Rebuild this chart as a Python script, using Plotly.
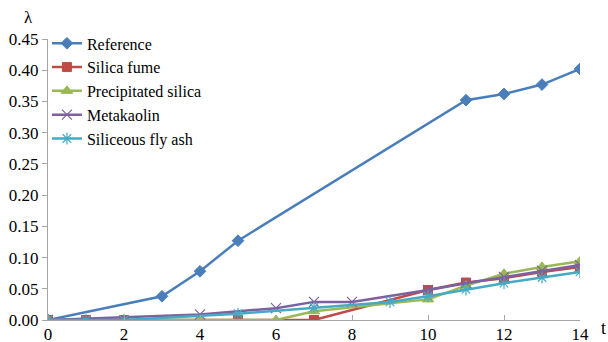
import plotly.graph_objects as go

# Data
ref_t = [0, 3, 4, 5, 11, 12, 13, 14]
ref_v = [0.0, 0.038, 0.078, 0.127, 0.352, 0.362, 0.377, 0.402]

sf_t = [0, 1, 2, 5, 7, 10, 11, 12, 13, 14]
sf_v = [0.0, 0.0, 0.0, 0.0, 0.0, 0.048, 0.060, 0.067, 0.077, 0.085]

ps_t = [0, 3, 4, 6, 7, 10, 11, 12, 13, 14]
ps_v = [0.0, 0.0, 0.0, 0.0, 0.014, 0.033, 0.055, 0.074, 0.085, 0.094]

mk_t = [0, 4, 6, 7, 8, 10, 11, 12, 13, 14]
mk_v = [0.0, 0.009, 0.019, 0.029, 0.029, 0.048, 0.059, 0.069, 0.079, 0.088]

fa_t = [0, 1, 2, 5, 7, 9, 10, 11, 12, 13, 14]
fa_v = [0.0, 0.0, 0.0, 0.010, 0.020, 0.029, 0.038, 0.049, 0.059, 0.068, 0.077]

x_ticks = [0, 2, 4, 6, 8, 10, 12, 14]
y_ticks = [0.0, 0.05, 0.10, 0.15, 0.20, 0.25, 0.30, 0.35, 0.40, 0.45]

series = [
    ("Reference", ref_t, ref_v, "#4A7EBB", "diamond", 9, 1),
    ("Silica fume", sf_t, sf_v, "#BE4B48", "square", 9, 1),
    ("Precipitated silica", ps_t, ps_v, "#98B954", "triangle-up", 10, 1),
    ("Metakaolin", mk_t, mk_v, "#7D60A0", "x-thin-open", 10, 1.2),
    ("Siliceous fly ash", fa_t, fa_v, "#46AAC5", "asterisk-open", 10, 1.2),
]

FONT = "Liberation Serif"

fig = go.Figure()
for name, t, v, color, sym, size, lw in series:
    fig.add_trace(go.Scatter(
        x=t, y=v, name=name, mode="lines+markers",
        line=dict(color=color, width=2.5),
        marker=dict(symbol=sym, size=size, color=color,
                    line=dict(color=color, width=lw)),
    ))

fig.update_layout(
    width=608, height=342,
    margin=dict(l=48, r=28, t=39, b=22),
    paper_bgcolor="white", plot_bgcolor="white",
    font=dict(family=FONT, size=17, color="#000000"),
    showlegend=True,
    legend=dict(x=-0.002, y=1.045, xanchor="left", yanchor="top",
                bgcolor="rgba(0,0,0,0)", font=dict(family=FONT, size=16),
                itemwidth=30, tracegroupgap=0),
    xaxis=dict(range=[0, 14], tickvals=x_ticks, ticktext=[str(v) for v in x_ticks],
               showgrid=False, zeroline=False, showline=True, linecolor="#A6A6A6",
               linewidth=1.2, ticks="inside", ticklen=5, tickcolor="#A6A6A6",
               tickfont=dict(family=FONT, size=17), automargin=False,
               ticklabelstandoff=-2),
    yaxis=dict(range=[0, 0.45], tickvals=y_ticks, ticktext=[f"{v:.2f}" for v in y_ticks],
               showgrid=False, zeroline=False, showline=True, linecolor="#A6A6A6",
               linewidth=1.2, ticks="outside", ticklen=5, tickcolor="#A6A6A6",
               tickfont=dict(family=FONT, size=17), automargin=False),
    annotations=[
        dict(text="λ", xref="paper", yref="paper", x=-0.0375, y=1.0, yshift=22,
             xanchor="center", yanchor="middle", showarrow=False,
             font=dict(family=FONT, size=17)),
        dict(text="t", xref="paper", yref="paper", x=1.0, y=0.0, xshift=23, yshift=-8,
             xanchor="center", yanchor="middle", showarrow=False,
             font=dict(family=FONT, size=18)),
    ],
)

fig.write_html("out.html",
               config={"displayModeBar": False},
               post_script="document.body.style.margin='0';document.body.style.padding='0';")
